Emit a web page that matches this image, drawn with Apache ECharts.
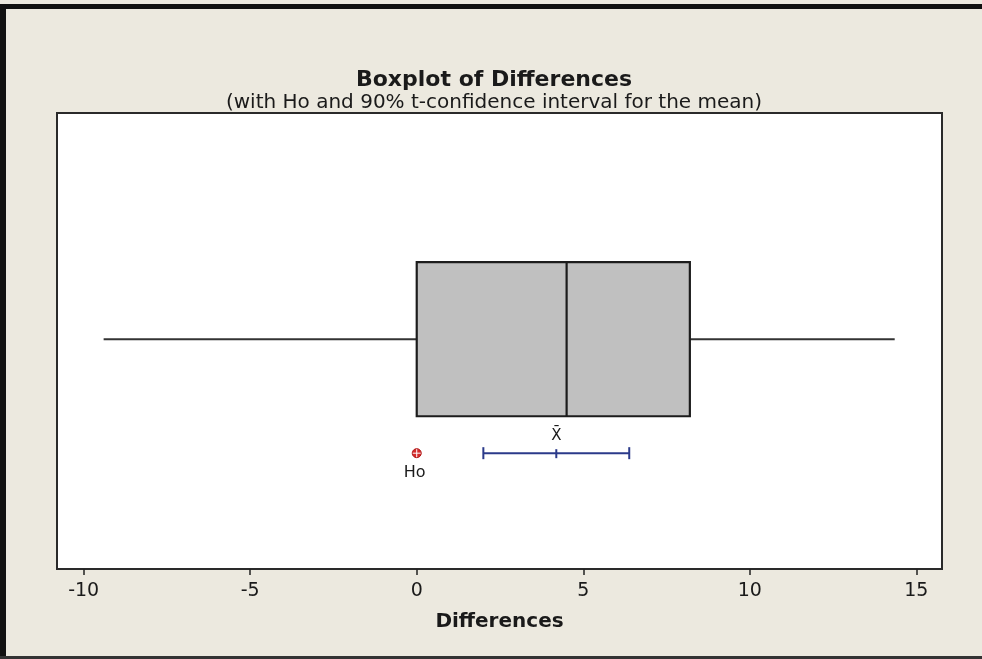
<!DOCTYPE html>
<html>
<head>
<meta charset="utf-8">
<title>Boxplot of Differences</title>
<script src="https://cdn.jsdelivr.net/npm/echarts@6/dist/echarts.min.js"></script>
<style>
  html, body { margin: 0; padding: 0; background: #ECE9DF; }
  #chart { width: 982px; height: 659px; }
</style>
</head>
<body>
<div id="chart"></div>
<script>
// Summary statistics of the differences
const categories = ['Differences'];
const boxStats = [-9.4, 0.0, 4.5, 8.2, 14.35];   // whisker low, Q1, median, Q3, whisker high
const meanValue = 4.19;
const ciBounds = [2.0, 6.38];                      // 90% t-confidence interval for the mean
const nullValue = 0;                               // Ho
const tickValues = [-10, -5, 0, 5, 10, 15];

const FONT = '"DejaVu Sans", Tahoma, sans-serif';
const INK = '#1a1a1a';

// vertical layout inside the plot (value axis 0..1)
const BOX_Y = 0.504, BOX_HALF = 0.169;
const CI_Y = 0.254;

const chart = echarts.init(document.getElementById('chart'), null, { renderer: 'canvas' });

function boxItem(params, api) {
  const v = [0, 1, 2, 3, 4].map(i => api.value(i));
  const top = api.coord([v[1], BOX_Y + BOX_HALF]);
  const bot = api.coord([v[3], BOX_Y - BOX_HALF]);
  const mid = api.coord([v[2], BOX_Y]);
  const wl = api.coord([v[0], BOX_Y]);
  const wh = api.coord([v[4], BOX_Y]);
  const lineStyle = { stroke: '#333', lineWidth: 2 };
  return {
    type: 'group',
    children: [
      { type: 'line', shape: { x1: wl[0], y1: wl[1], x2: top[0], y2: wl[1] }, style: lineStyle },
      { type: 'line', shape: { x1: bot[0], y1: wh[1], x2: wh[0], y2: wh[1] }, style: lineStyle },
      { type: 'rect', shape: { x: top[0], y: top[1], width: bot[0] - top[0], height: bot[1] - top[1] },
        style: { fill: '#C0C0C0', stroke: '#1c1c1c', lineWidth: 2.2 } },
      { type: 'line', shape: { x1: mid[0], y1: top[1], x2: mid[0], y2: bot[1] }, style: { stroke: '#1c1c1c', lineWidth: 2.2 } }
    ]
  };
}

function ciItem(params, api) {
  const lo = api.coord([api.value(0), CI_Y]);
  const hi = api.coord([api.value(1), CI_Y]);
  const m = api.coord([api.value(2), CI_Y]);
  const s = { stroke: '#2B3A8A', lineWidth: 2 };
  return {
    type: 'group',
    children: [
      { type: 'line', shape: { x1: lo[0], y1: lo[1], x2: hi[0], y2: hi[1] }, style: s },
      { type: 'line', shape: { x1: lo[0], y1: lo[1] - 6, x2: lo[0], y2: lo[1] + 6 }, style: s },
      { type: 'line', shape: { x1: hi[0], y1: hi[1] - 6, x2: hi[0], y2: hi[1] + 6 }, style: s },
      { type: 'line', shape: { x1: m[0], y1: m[1] - 4, x2: m[0], y2: m[1] + 5 }, style: s },
      { type: 'text', x: m[0], y: m[1] - 17,
        style: { text: 'X\u0304', font: '15px ' + FONT, fill: INK, align: 'center', verticalAlign: 'middle' } }
    ]
  };
}

function nullItem(params, api) {
  const p = api.coord([api.value(0), CI_Y]);
  return {
    type: 'group',
    children: [
      { type: 'circle', shape: { cx: p[0], cy: p[1], r: 4.5 }, style: { fill: '#D42A2A', stroke: '#B01818', lineWidth: 1 } },
      { type: 'line', shape: { x1: p[0] - 4, y1: p[1], x2: p[0] + 4, y2: p[1] }, style: { stroke: '#fff', lineWidth: 1 } },
      { type: 'line', shape: { x1: p[0], y1: p[1] - 4, x2: p[0], y2: p[1] + 4 }, style: { stroke: '#fff', lineWidth: 1 } },
      { type: 'text', x: p[0] - 2, y: p[1] + 20,
        style: { text: 'Ho', font: '16px ' + FONT, fill: INK, align: 'center', verticalAlign: 'middle' } }
    ]
  };
}

chart.setOption({
  backgroundColor: '#ECE9DF',
  animation: false,
  title: {
    text: 'Boxplot of ' + categories[0],
    subtext: '(with Ho and 90% t-confidence interval for the mean)',
    left: 494, top: 69, textAlign: 'center', itemGap: 1, padding: 0,
    textStyle: { fontFamily: FONT, fontSize: 22, lineHeight: 22, fontWeight: 'bold', color: INK },
    subtextStyle: { fontFamily: FONT, fontSize: 20, lineHeight: 22, color: INK }
  },
  grid: { left: 57, right: 40, top: 113, bottom: 90, show: true, backgroundColor: '#fff', borderColor: '#2a2a2a', borderWidth: 2 },
  xAxis: {
    type: 'value', min: -10.8, max: 15.77,
    name: categories[0], nameLocation: 'middle', nameGap: 43,
    nameTextStyle: { fontFamily: FONT, fontSize: 20, fontWeight: 'bold', color: INK },
    axisLine: { show: false },
    splitLine: { show: false },
    axisTick: { show: true, customValues: tickValues, length: 6, lineStyle: { color: '#222', width: 1.5 } },
    axisLabel: { customValues: tickValues, margin: 13, fontFamily: FONT, fontSize: 19, color: INK }
  },
  yAxis: { type: 'value', min: 0, max: 1, show: false },
  series: [
    { type: 'custom', renderItem: boxItem, data: [boxStats], clip: false },
    { type: 'custom', renderItem: ciItem, data: [[ciBounds[0], ciBounds[1], meanValue]], clip: false },
    { type: 'custom', renderItem: nullItem, data: [[nullValue]], clip: false }
  ],
  graphic: [
    { type: 'rect', left: 0, top: 4, shape: { width: 982, height: 5 }, style: { fill: '#111' }, silent: true },
    { type: 'rect', left: 0, top: 4, shape: { width: 6, height: 655 }, style: { fill: '#111' }, silent: true },
    { type: 'rect', left: 0, top: 656, shape: { width: 982, height: 3 }, style: { fill: '#333' }, silent: true }
  ]
});
</script>
</body>
</html>
